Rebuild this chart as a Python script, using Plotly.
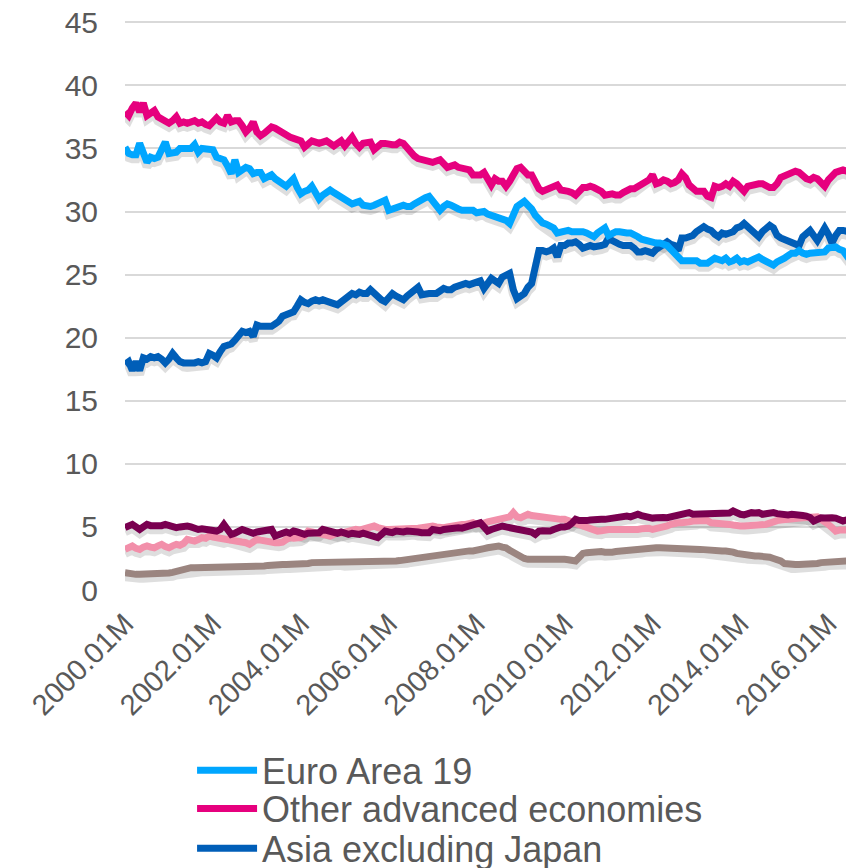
import plotly.graph_objects as go

# Monthly categories 2000.01M .. 2016.08M
months = [f"{2000 + k // 12}.{k % 12 + 1:02d}M" for k in range(200)]
tick_labels = months[::24]

euro_area_19 = [
    35.1, 34.6, 34.5, 34.5, 35.4, 34.6, 33.9, 34.3, 34.2, 34.3, 34.9, 35.5,
    34.6, 34.7, 34.7, 35.0, 35.0, 34.9, 35.0, 35.3, 34.7, 35.0, 35.0, 34.9,
    34.9, 34.3, 34.2, 34.1, 33.6, 33.0, 34.1, 33.1, 33.3, 33.5, 33.4, 33.0,
    33.1, 33.1, 32.6, 32.8, 32.9, 32.6, 32.4, 32.2, 32.0, 32.3, 32.6, 31.9,
    31.4, 31.6, 31.7, 32.0, 31.5, 31.0, 31.3, 31.5, 31.7, 31.5, 31.3, 31.1,
    30.9, 30.8, 30.6, 30.7, 30.8, 30.5, 30.4, 30.4, 30.5, 30.6, 30.7, 30.9,
    30.1, 30.2, 30.4, 30.5, 30.5, 30.4, 30.4, 30.6, 30.8, 31.0, 31.1, 31.2,
    30.8, 30.6, 30.1, 30.4, 30.6, 30.5, 30.3, 30.2, 30.1, 30.1, 30.0, 30.1,
    29.9, 30.0, 30.0, 29.8, 29.7, 29.6, 29.5, 29.5, 29.3, 29.05, 29.6, 30.4,
    30.6, 30.8, 30.5, 30.2, 29.7, 29.3, 29.1, 29.0, 28.9, 28.7, 28.3, 28.4,
    28.5, 28.5, 28.4, 28.4, 28.5, 28.4, 28.3, 28.1, 28.0, 28.3, 28.5, 28.7,
    28.1, 28.3, 28.4, 28.4, 28.3, 28.3, 28.3, 28.2, 28.0, 27.8, 27.7, 27.6,
    27.6, 27.5, 27.5, 27.4, 27.3, 27.0, 26.7, 26.4, 26.1, 26.1, 26.1, 26.1,
    26.1, 25.9, 25.9, 25.9, 26.1, 26.3, 26.2, 26.1, 26.3, 26.0, 26.1, 26.3,
    26.0, 26.1, 26.0, 26.1, 26.3, 26.4, 26.2, 26.0, 25.9, 25.75, 26.0, 26.1,
    26.3, 26.5, 26.7, 26.7, 26.9, 26.7, 26.6, 26.7, 26.7, 26.8, 26.8, 26.8,
    27.1, 27.1, 27.2, 27.0, 26.9, 26.5, 26.7, 26.9,
]

other_advanced = [
    37.9, 37.6, 38.2, 38.6, 37.9, 38.6, 37.6, 37.8, 38.0, 37.5, 37.3, 37.1,
    37.0, 37.2, 37.5, 37.0, 37.1, 37.0, 37.1, 37.2, 37.0, 37.1, 36.9, 36.8,
    37.1, 37.4, 37.1, 37.0, 37.6, 37.1, 37.2, 37.2, 36.8, 36.3, 36.6, 37.1,
    36.3, 36.0, 36.2, 36.5, 36.7, 36.6, 36.4, 36.3, 36.1, 35.9, 35.8, 35.7,
    35.6, 35.1, 35.3, 35.6, 35.5, 35.4, 35.5, 35.6, 35.4, 35.2, 35.4, 35.6,
    35.2, 35.6, 35.9, 35.4, 35.1, 35.4, 35.4, 35.5, 34.9, 35.2, 35.4, 35.4,
    35.3, 35.3, 35.3, 35.5, 35.4, 35.0, 34.6, 34.4, 34.2, 34.1, 34.1, 34.0,
    33.9, 34.0, 34.1, 33.8, 33.5, 33.6, 33.7, 33.5, 33.4, 33.3, 33.3, 32.9,
    32.9, 32.9, 33.1, 32.6, 32.1, 32.6, 32.4, 32.4, 32.0, 32.4, 32.9, 33.4,
    33.5, 33.1, 32.9, 32.9, 32.2, 31.8, 31.6, 31.7, 31.8, 31.9, 32.1, 31.7,
    31.7, 31.6, 31.5, 31.3, 31.6, 31.9, 31.9, 32.0, 31.9, 31.8, 31.6, 31.3,
    31.4, 31.4, 31.3, 31.3, 31.5, 31.7, 31.8, 31.8, 32.0, 32.2, 32.3, 32.5,
    32.9, 32.2, 32.3, 32.5, 32.4, 32.2, 32.3, 32.5, 33.0, 32.7, 32.1, 31.9,
    31.6, 31.6, 31.6, 31.2, 31.1, 32.0, 31.9, 32.0, 32.2, 32.0, 32.4, 32.2,
    31.8, 31.6, 32.0, 32.1, 32.2, 32.2, 32.2, 32.0, 31.9, 31.9, 32.2, 32.7,
    32.8, 32.9, 33.0, 33.2, 33.1, 32.8, 32.6, 32.5, 32.7, 32.6, 32.3, 32.0,
    32.5, 32.9, 33.1, 33.2, 33.3, 33.2, 33.1, 33.0,
]

asia_excl_japan = [
    17.9, 18.1, 17.4, 18.1, 17.4, 18.4, 18.3, 18.5, 18.4, 18.5, 18.3, 18.0,
    18.3, 18.75, 18.4, 18.1, 18.0, 17.96, 17.96, 18.0, 18.1, 18.0, 18.1, 18.75,
    18.6, 18.4, 18.9, 19.3, 19.4, 19.5, 19.8, 20.1, 20.5, 20.4, 20.5, 20.1,
    21.0, 20.9, 20.9, 20.9, 20.9, 21.1, 21.3, 21.7, 21.8, 22.0, 22.05, 22.5,
    23.0, 22.8, 22.7, 22.9, 23.0, 22.9, 23.0, 22.9, 22.85, 22.7, 22.6, 22.8,
    23.0, 23.2, 23.5, 23.4, 23.6, 23.5, 23.5, 23.8, 23.5, 23.2, 23.0, 22.85,
    23.2, 23.5, 23.3, 23.1, 23.0, 23.3, 23.5, 23.7, 24.0, 23.4, 23.5, 23.5,
    23.5, 23.5, 23.7, 23.9, 23.8, 23.8, 24.0, 24.1, 24.3, 24.3, 24.2, 24.3,
    24.3, 24.5, 23.9, 24.4, 24.7, 24.5, 24.3, 24.8, 24.9, 25.1, 23.8, 23.1,
    23.3, 23.5, 24.0, 24.3, 25.6, 26.9, 26.9, 26.8, 26.9, 27.1, 26.4, 27.3,
    27.3, 27.5, 27.5, 27.6, 27.4, 27.1, 27.2, 27.3, 27.2, 27.2, 27.3, 27.4,
    27.9, 27.7, 27.5, 27.4, 27.3, 27.3, 27.3, 27.1, 26.8, 26.8, 26.9, 26.8,
    26.7, 27.0, 27.2, 27.4, 27.6, 27.4, 27.3, 26.9, 27.9, 27.9, 28.0, 28.1,
    28.4, 28.6, 28.8, 28.6, 28.5, 28.2, 28.0, 28.3, 28.2, 28.3, 28.4, 28.7,
    28.8, 29.05, 28.8, 28.5, 28.2, 28.0, 28.4, 28.6, 28.9, 28.7, 28.1, 27.9,
    27.8, 27.7, 27.5, 27.4, 27.3, 28.0, 28.2, 28.5, 28.1, 27.7, 28.2, 28.7,
    28.2, 27.5, 28.1, 28.5, 28.5, 28.4, 28.3, 28.3,
]

series_four = [
    4.94, 5.0, 5.2, 5.0, 4.8, 5.0, 5.2, 5.1, 5.07, 5.0, 5.1, 5.2,
    5.1, 5.0, 4.94, 5.0, 5.1, 5.07, 5.0, 4.9, 4.8, 4.85, 4.8, 4.8,
    4.7, 4.67, 4.8, 5.2, 4.8, 4.41, 4.5, 4.6, 4.8, 4.7, 4.54, 4.5,
    4.6, 4.67, 4.6, 4.7, 4.8, 4.28, 4.4, 4.54, 4.6, 4.5, 4.67, 4.6,
    4.5, 4.41, 4.5, 4.54, 4.6, 4.54, 4.8, 4.7, 4.6, 4.54, 4.5, 4.6,
    4.5, 4.41, 4.5, 4.45, 4.41, 4.5, 4.41, 4.35, 4.3, 4.15, 4.4, 4.67,
    4.6, 4.55, 4.67, 4.6, 4.6, 4.67, 4.6, 4.67, 4.6, 4.54, 4.5, 4.54,
    4.8, 4.7, 4.7, 4.8, 4.85, 4.8, 4.9, 4.94, 4.9, 5.0, 5.1, 5.2,
    5.2, 5.33, 5.0, 4.67, 4.8, 4.94, 5.0, 5.07, 5.0, 4.94, 4.9, 4.94,
    4.8, 4.75, 4.67, 4.6, 4.41, 4.67, 4.7, 4.67, 4.67, 4.8, 4.94, 5.0,
    5.0, 5.07, 5.3, 5.6, 5.5, 5.47, 5.5, 5.55, 5.6, 5.55, 5.6, 5.6,
    5.65, 5.6, 5.73, 5.7, 5.8, 5.86, 5.8, 5.9, 6.0, 5.9, 5.8, 5.73,
    5.7, 5.73, 5.8, 5.75, 5.73, 5.8, 5.8, 5.86, 5.95, 6.05, 6.13, 6.0,
    6.0, 6.05, 6.13, 6.1, 6.0, 6.13, 6.13, 6.05, 6.0, 6.1, 6.26, 6.1,
    6.0, 5.95, 6.05, 6.13, 6.1, 6.13, 6.0, 6.05, 6.1, 6.13, 6.05, 6.0,
    6.0, 5.95, 6.0, 6.0, 5.95, 5.9, 5.86, 5.75, 5.47, 5.6, 5.73, 5.7,
    5.65, 5.73, 5.7, 5.6, 5.47, 5.55, 5.6, 5.55,
]

series_five = [
    3.22, 3.35, 3.49, 3.3, 3.22, 3.4, 3.49, 3.4, 3.35, 3.5, 3.62, 3.45,
    3.35, 3.5, 3.62, 3.55, 3.7, 4.01, 3.95, 3.88, 4.0, 4.15, 4.1, 4.28,
    4.2, 4.15, 4.15, 4.01, 4.1, 4.01, 4.0, 3.9, 3.88, 3.75, 3.62, 3.8,
    4.01, 3.95, 3.88, 3.85, 3.75, 3.75, 3.75, 3.8, 4.0, 4.15, 4.1, 4.1,
    4.15, 4.3, 4.67, 4.6, 4.54, 4.4, 4.28, 4.3, 4.28, 4.4, 4.54, 4.5,
    4.6, 4.67, 4.7, 4.8, 4.75, 4.85, 4.94, 4.94, 5.07, 4.95, 4.8, 4.8,
    4.8, 4.8, 4.8, 4.85, 4.8, 4.8, 4.8, 4.85, 4.9, 4.94, 5.0, 5.07,
    5.07, 5.0, 4.94, 4.94, 5.0, 5.07, 5.07, 5.1, 5.2, 5.2, 5.25, 5.33,
    5.2, 5.2, 5.3, 5.4, 5.47, 5.5, 5.6, 5.6, 5.73, 5.8, 6.13, 5.8,
    5.73, 5.8, 6.0, 5.9, 5.86, 5.8, 5.73, 5.7, 5.6, 5.6, 5.6, 5.6,
    5.6, 5.5, 5.33, 5.2, 5.07, 5.0, 4.94, 4.8, 4.75, 4.67, 4.7, 4.8,
    4.8, 4.8, 4.8, 4.8, 4.67, 4.7, 4.75, 4.8, 4.8, 4.85, 4.94, 4.9,
    4.8, 4.85, 4.9, 4.94, 5.07, 5.2, 5.33, 5.33, 5.33, 5.33, 5.4, 5.47,
    5.47, 5.55, 5.6, 5.5, 5.33, 5.33, 5.25, 5.2, 5.2, 5.2, 5.15, 5.07,
    5.07, 5.07, 5.07, 5.07, 5.07, 5.1, 5.2, 5.2, 5.3, 5.47, 5.5, 5.55,
    5.6, 5.6, 5.65, 5.73, 5.73, 5.73, 5.75, 5.8, 5.86, 5.8, 5.6, 5.47,
    5.2, 4.94, 4.67, 4.75, 4.8, 4.75, 4.7, 4.67,
]

series_six = [
    1.37, 1.3, 1.24, 1.24, 1.24, 1.24, 1.24, 1.24, 1.24, 1.24, 1.24, 1.3,
    1.35, 1.4, 1.5, 1.55, 1.6, 1.7, 1.77, 1.77, 1.77, 1.77, 1.77, 1.77,
    1.77, 1.77, 1.77, 1.77, 1.77, 1.77, 1.77, 1.77, 1.77, 1.77, 1.77, 1.8,
    1.85, 1.9, 1.9, 1.95, 2.0, 2.03, 2.03, 2.03, 2.03, 2.03, 2.03, 2.03,
    2.03, 2.05, 2.1, 2.17, 2.17, 2.17, 2.17, 2.17, 2.2, 2.25, 2.3, 2.25,
    2.2, 2.17, 2.17, 2.2, 2.25, 2.3, 2.3, 2.3, 2.3, 2.3, 2.3, 2.3,
    2.3, 2.3, 2.3, 2.33, 2.37, 2.43, 2.5, 2.55, 2.65, 2.69, 2.72, 2.77,
    2.8, 2.83, 2.88, 2.92, 2.96, 3.0, 3.03, 3.09, 3.12, 3.15, 3.1, 3.09,
    3.2, 3.22, 3.28, 3.35, 3.4, 3.45, 3.49, 3.4, 3.35, 3.15, 2.96, 2.75,
    2.56, 2.5, 2.43, 2.43, 2.43, 2.43, 2.43, 2.45, 2.5, 2.56, 2.5, 2.45,
    2.43, 2.4, 2.35, 2.3, 2.6, 2.9, 2.96, 3.0, 3.05, 3.09, 3.05, 3.0,
    2.96, 3.0, 3.05, 3.09, 3.09, 3.12, 3.15, 3.2, 3.22, 3.25, 3.3, 3.35,
    3.35, 3.35, 3.35, 3.35, 3.35, 3.35, 3.35, 3.35, 3.3, 3.25, 3.22, 3.22,
    3.22, 3.22, 3.2, 3.15, 3.12, 3.09, 3.09, 3.09, 3.09, 3.09, 3.0, 2.9,
    2.83, 2.8, 2.75, 2.69, 2.69, 2.69, 2.69, 2.69, 2.6, 2.5, 2.43, 2.3,
    2.1, 2.03, 2.03, 2.03, 2.03, 2.03, 2.03, 2.03, 2.03, 2.1, 2.17, 2.2,
    2.25, 2.3, 2.3, 2.3, 2.3, 2.3, 2.3, 2.3,
]

y_ticks = [0, 5, 10, 15, 20, 25, 30, 35, 40, 45]

series = [
    # name, values, colour, legend slot (None = not in the visible legend)
    ("Series 6", series_six, "#9B8580", None),
    ("Series 5", series_five, "#F28FAA", None),
    ("Series 4", series_four, "#7A0050", None),
    ("Asia excluding Japan", asia_excl_japan, "#005EB8", "legend3"),
    ("Other advanced economies", other_advanced, "#E6007E", "legend2"),
    ("Euro Area 19", euro_area_19, "#00A6FF", "legend"),
]

fig = go.Figure()

# soft drop shadows, drawn a few pixels below each line
PLOT_H = 569
Y_TOP = 45.1
shadow_shift = 4 * Y_TOP / PLOT_H
for name, vals, col, leg in series:
    fig.add_trace(go.Scatter(
        x=months, y=[v - shadow_shift for v in vals], mode="lines",
        line=dict(color="rgba(0,0,0,0.13)", width=9),
        showlegend=False, hoverinfo="skip",
    ))

for name, vals, col, leg in series:
    kw = dict(legend=leg) if leg else {}
    fig.add_trace(go.Scatter(
        x=months, y=vals, mode="lines", name=name,
        line=dict(color=col, width=7),
        showlegend=leg is not None, **kw,
    ))

legend_common = dict(
    orientation="v", xanchor="left", yanchor="middle",
    font=dict(family="Liberation Sans, Arial", size=36, color="#595959"),
    bgcolor="rgba(0,0,0,0)", itemwidth=60, tracegroupgap=0,
)

# the page body has an 8 px default margin, so the figure is sized/offset to fit
fig.update_layout(
    width=846, height=860,
    margin=dict(l=117, r=0, t=13, b=278, autoexpand=False),
    paper_bgcolor="white", plot_bgcolor="white",
    font=dict(family="Liberation Sans, Arial", color="#595959"),
    xaxis=dict(
        type="category", range=[0, 199],
        tickmode="array", tickvals=tick_labels, ticktext=tick_labels,
        tickangle=-45, tickfont=dict(size=29, color="#595959"),
        showgrid=False, zeroline=False, showline=False, ticks="",
        ticklabelstandoff=10, automargin=False, ticklabeloverflow="allow",
    ),
    yaxis=dict(
        range=[0, Y_TOP], tickvals=y_ticks,
        tickfont=dict(size=30, color="#595959"),
        showgrid=True, gridcolor="#D9D9D9", gridwidth=1.5,
        zeroline=False, showline=False, ticks="", ticklabelstandoff=26,
        automargin=False, ticklabeloverflow="allow",
    ),
    legend=dict(x=0.092, y=-0.317, **legend_common),
    legend2=dict(x=0.092, y=-0.384, **legend_common),
    legend3=dict(x=0.092, y=-0.454, **legend_common),
    showlegend=True,
)

fig.write_html("out.html")
